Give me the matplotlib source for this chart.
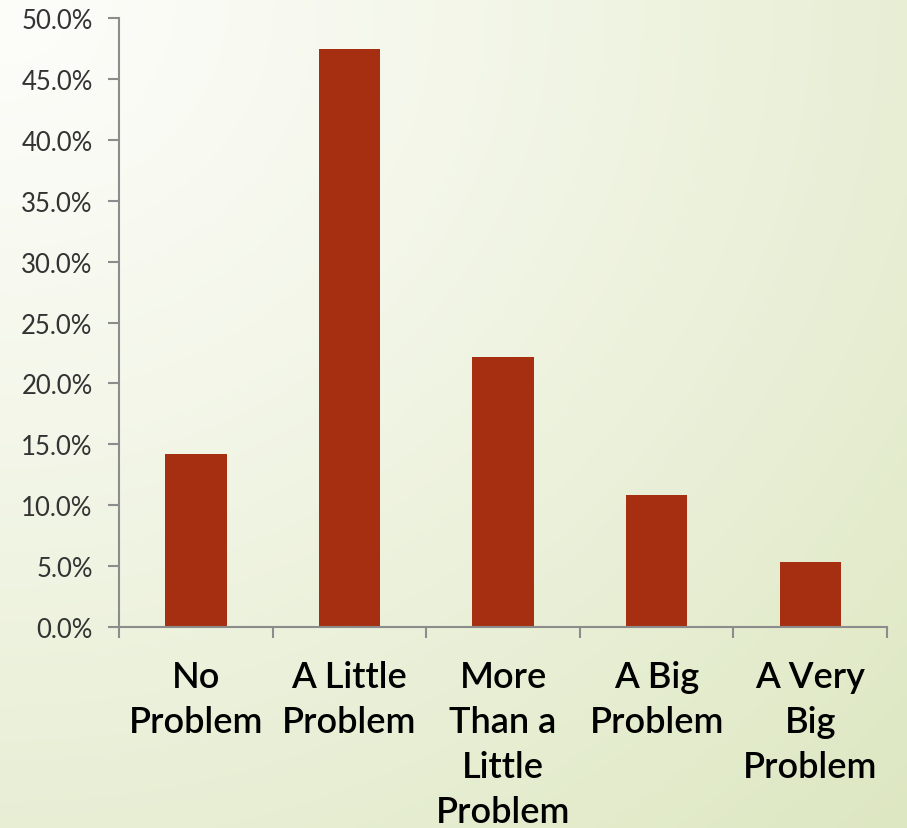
import numpy as np
import matplotlib.pyplot as plt
from matplotlib.ticker import PercentFormatter

categories = ["No\nProblem", "A Little\nProblem", "More\nThan a\nLittle\nProblem",
              "A Big\nProblem", "A Very\nBig\nProblem"]
values = [14.2, 47.5, 22.2, 10.8, 5.3]

fig = plt.figure(figsize=(9.07, 8.29), dpi=100)

# background gradient, white top-left to pale green bottom-right
bg = fig.add_axes([0, 0, 1, 1], zorder=0)
xx, yy = np.meshgrid(np.linspace(0, 1, 300), np.linspace(0, 1, 300))
t = np.clip(np.sqrt(xx**2 + yy**2) / np.sqrt(2), 0, 1) ** 1.2
c0 = np.array([253, 253, 250]) / 255
c1 = np.array([221, 231, 193]) / 255
img = c0 + (c1 - c0) * t[..., None]
bg.imshow(img, aspect="auto", extent=[0, 1, 0, 1], origin="upper")
bg.axis("off")

ax = fig.add_axes([0.1312, 0.2425, 0.8468, 0.7345], zorder=1)
ax.patch.set_alpha(0)
x = np.arange(len(categories))
ax.bar(x, values, width=0.4, color="#a52f10")

ax.set_ylim(0, 50)
ax.set_yticks(np.arange(0, 50.1, 5))
ax.yaxis.set_major_formatter(PercentFormatter(decimals=1))
ax.set_xlim(-0.5, len(categories) - 0.5)
ax.set_xticks(x)
ax.set_xticklabels(categories, fontsize=26, fontweight="semibold", family="Lato",
                   linespacing=1.44)
ax.set_xticks(np.arange(-0.5, len(categories)), minor=True)
ax.tick_params(axis="x", which="major", length=0, pad=24)
ax.tick_params(axis="x", which="minor", length=8, color="#8c8c8c", width=1.5)
ax.tick_params(axis="y", length=8, color="#8c8c8c", width=1.5, labelsize=18.5,
               labelcolor="#333333", pad=11)
for lbl in ax.get_yticklabels():
    lbl.set_family("Lato")

for s in ["top", "right"]:
    ax.spines[s].set_visible(False)
for s in ["left", "bottom"]:
    ax.spines[s].set_color("#8c8c8c")
    ax.spines[s].set_linewidth(1.5)

fig.savefig("out.png", dpi=100)
